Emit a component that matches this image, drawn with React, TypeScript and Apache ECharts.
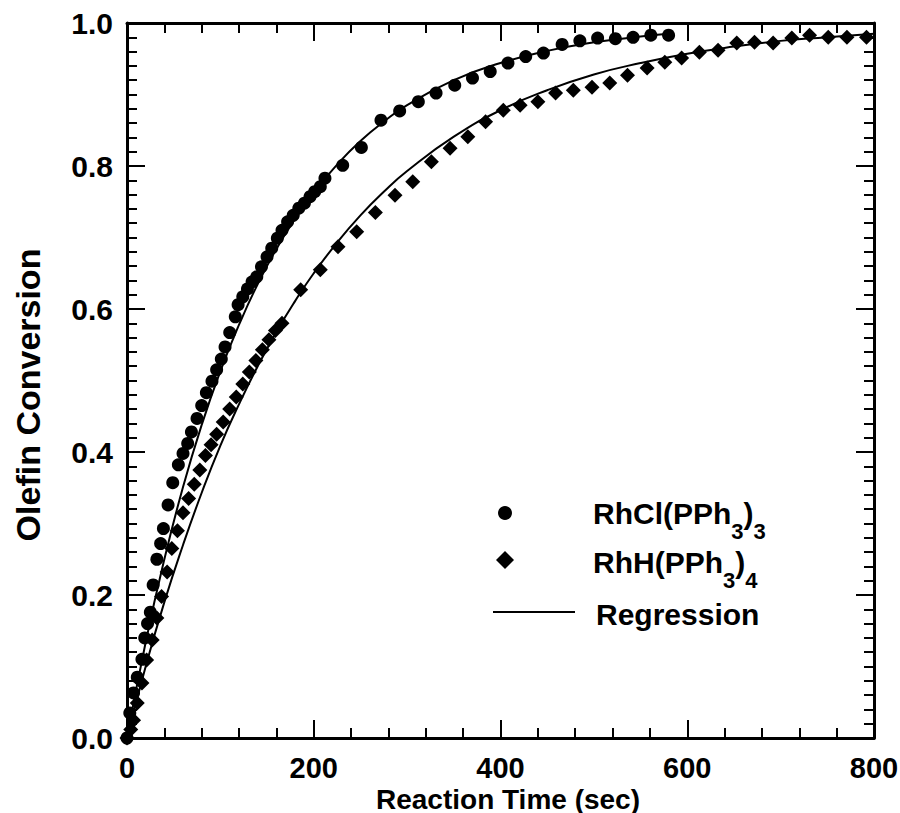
import React, { useEffect, useRef } from "react";
import * as echarts from "echarts";

// RhCl(PPh3)3 measured points (circles)
const rhclTime = [0, 3, 7, 11, 16, 19, 22, 25, 28, 32, 36, 39, 44, 49, 55, 60, 65, 69, 75, 80, 85, 91, 96, 101, 105, 110, 116, 119, 124, 129, 134, 139, 144, 150, 155, 161, 166, 172, 178, 184, 190, 196, 201, 207, 212, 231, 251, 272, 292, 312, 331, 351, 370, 389, 408, 427, 446, 466, 485, 504, 523, 542, 561, 580];
const rhclConv = [0, 0.035, 0.063, 0.085, 0.11, 0.14, 0.16, 0.176, 0.214, 0.25, 0.272, 0.293, 0.326, 0.357, 0.382, 0.398, 0.412, 0.428, 0.447, 0.465, 0.483, 0.499, 0.515, 0.53, 0.547, 0.567, 0.589, 0.606, 0.617, 0.628, 0.638, 0.645, 0.659, 0.673, 0.685, 0.699, 0.71, 0.722, 0.731, 0.741, 0.748, 0.757, 0.764, 0.771, 0.783, 0.801, 0.826, 0.864, 0.877, 0.89, 0.902, 0.913, 0.923, 0.932, 0.944, 0.953, 0.958, 0.97, 0.975, 0.979, 0.978, 0.98, 0.983, 0.983];

// RhH(PPh3)4 measured points (diamonds)
const rhhTime = [0, 4, 7, 11, 16, 21, 27, 32, 37, 43, 48, 54, 60, 66, 72, 78, 84, 90, 96, 103, 110, 117, 124, 131, 138, 145, 152, 159, 166, 186, 207, 226, 246, 266, 287, 306, 326, 346, 365, 384, 403, 421, 440, 459, 478, 498, 517, 536, 557, 576, 594, 613, 633, 653, 672, 692, 712, 731, 751, 771, 792];
const rhhConv = [0, 0.012, 0.025, 0.049, 0.077, 0.109, 0.137, 0.168, 0.198, 0.232, 0.265, 0.29, 0.315, 0.335, 0.355, 0.375, 0.395, 0.41, 0.425, 0.442, 0.46, 0.477, 0.495, 0.512, 0.528, 0.543, 0.557, 0.57, 0.58, 0.627, 0.655, 0.687, 0.708, 0.735, 0.759, 0.778, 0.806, 0.825, 0.841, 0.862, 0.878, 0.885, 0.89, 0.902, 0.906, 0.91, 0.916, 0.927, 0.937, 0.945, 0.951, 0.959, 0.962, 0.972, 0.973, 0.972, 0.979, 0.983, 0.98, 0.98, 0.98];

// Regression curves
const fitRhclTime = [0, 20, 40, 60, 80, 100, 120, 140, 160, 180, 200, 225, 250, 275, 300, 350, 400, 450, 500, 550, 580];
const fitRhclConv = [0, 0.134, 0.25, 0.351, 0.438, 0.513, 0.578, 0.635, 0.684, 0.726, 0.763, 0.802, 0.835, 0.862, 0.885, 0.92, 0.944, 0.961, 0.973, 0.981, 0.985];
const fitRhhTime = [0, 20, 40, 60, 80, 100, 120, 140, 160, 180, 200, 225, 250, 275, 300, 350, 400, 450, 500, 550, 600, 650, 700, 750, 800];
const fitRhhConv = [0, 0.1, 0.19, 0.27, 0.343, 0.409, 0.467, 0.52, 0.568, 0.611, 0.65, 0.693, 0.731, 0.764, 0.793, 0.841, 0.878, 0.906, 0.928, 0.944, 0.957, 0.967, 0.975, 0.98, 0.985];

const xTickValues = [0, 200, 400, 600, 800];
const yTickValues = [0, 0.2, 0.4, 0.6, 0.8, 1.0];

const seriesNames = ["RhCl(PPh3)3", "RhH(PPh3)4", "Regression"];
const xTitle = "Reaction Time (sec)";
const yTitle = "Olefin Conversion";

const FONT = '"Liberation Sans", Arial, sans-serif';

const zip = (xs: number[], ys: number[]) => xs.map((x, i) => [x, ys[i]]);

export default function App() {
  const ref = useRef<HTMLDivElement>(null);
  useEffect(() => {
    if (!ref.current) return;
    const chart = echarts.init(ref.current, null, { renderer: "svg" });
    const axisCommon = {
      type: "value" as const,
      splitLine: { show: false },
      axisLine: { show: true, onZero: false, lineStyle: { color: "#000", width: 3 } },
      axisTick: { show: true, inside: true, length: 18, lineStyle: { color: "#000", width: 2 } },
      minorTick: { show: true, length: 10, lineStyle: { color: "#000", width: 2 } },
    };
    const xBase = { ...axisCommon, min: xTickValues[0], max: xTickValues[xTickValues.length - 1], interval: xTickValues[1] - xTickValues[0], minorTick: { ...axisCommon.minorTick, splitNumber: 5 } };
    const yBase = { ...axisCommon, min: yTickValues[0], max: yTickValues[yTickValues.length - 1], interval: 0.2, minorTick: { ...axisCommon.minorTick, splitNumber: 10 } };
    const richSub = {
      a: { fontSize: 30, fontWeight: "bold", fontFamily: FONT, fill: "#000" },
      b: { fontSize: 22, fontWeight: "bold", fontFamily: FONT, fill: "#000", padding: [36, 0, 0, 0] },
    };
    chart.setOption({
      animation: false,
      backgroundColor: "#fff",
      grid: { left: 127, right: 26, top: 23, bottom: 75, containLabel: false, outerBoundsMode: "none" },
      xAxis: [
        {
          ...xBase,
          position: "bottom",
          axisLabel: { color: "#000", fontSize: 29, fontWeight: "bold", fontFamily: FONT, margin: 19, lineHeight: 22 },
        },
        { ...xBase, position: "top", axisLabel: { show: false } },
      ],
      yAxis: [
        {
          ...yBase,
          position: "left",
          axisLabel: { color: "#000", fontSize: 30, fontWeight: "bold", fontFamily: FONT, margin: 14, formatter: (v: number) => v.toFixed(1) },
        },
        { ...yBase, position: "right", axisLabel: { show: false } },
      ],
      series: [
        {
          name: seriesNames[2] + " A",
          type: "line",
          data: zip(fitRhclTime, fitRhclConv),
          smooth: true,
          showSymbol: false,
          lineStyle: { color: "#000", width: 2 },
          z: 1,
        },
        {
          name: seriesNames[2] + " B",
          type: "line",
          data: zip(fitRhhTime, fitRhhConv),
          smooth: true,
          showSymbol: false,
          lineStyle: { color: "#000", width: 2 },
          z: 1,
        },
        {
          name: seriesNames[0],
          type: "scatter",
          data: zip(rhclTime, rhclConv),
          symbol: "circle",
          symbolSize: 13,
          itemStyle: { color: "#000", opacity: 1 },
          z: 2,
        },
        {
          name: seriesNames[1],
          type: "scatter",
          data: zip(rhhTime, rhhConv),
          symbol: "diamond",
          symbolSize: 15,
          itemStyle: { color: "#000", opacity: 1 },
          z: 2,
        },
      ],
      graphic: [
        {
          type: "text",
          x: 508,
          y: 799,
          style: { text: xTitle, fontSize: 28, lineHeight: 24, fontWeight: "bold", fontFamily: FONT, fill: "#000", align: "center", verticalAlign: "middle" },
        },
        {
          type: "text",
          x: 28,
          y: 395,
          rotation: Math.PI / 2,
          style: { text: yTitle, fontSize: 34, fontWeight: "bold", fontFamily: FONT, fill: "#000", align: "center", verticalAlign: "middle" },
        },
        { type: "circle", shape: { cx: 505, cy: 513, r: 7 }, style: { fill: "#000" } },
        { type: "polygon", shape: { points: [[505, 551], [514, 560], [505, 569], [496, 560]] }, style: { fill: "#000" } },
        { type: "line", shape: { x1: 493, y1: 612, x2: 575, y2: 612 }, style: { stroke: "#000", lineWidth: 2 } },
        {
          type: "text",
          x: 593,
          y: 513,
          style: { text: "{a|RhCl(PPh}{b|3}{a|)}{b|3}", verticalAlign: "middle", rich: richSub },
        },
        {
          type: "text",
          x: 593,
          y: 562,
          style: { text: "{a|RhH(PPh}{b|3}{a|)}{b|4}", verticalAlign: "middle", rich: richSub },
        },
        {
          type: "text",
          x: 596,
          y: 614,
          style: { text: seriesNames[2], fontSize: 30, fontWeight: "bold", fontFamily: FONT, fill: "#000", verticalAlign: "middle" },
        },
      ],
    });
    return () => chart.dispose();
  }, []);
  return <div ref={ref} style={{ position: "fixed", left: 0, top: 0, width: 900, height: 813, background: "#fff" }} />;
}
